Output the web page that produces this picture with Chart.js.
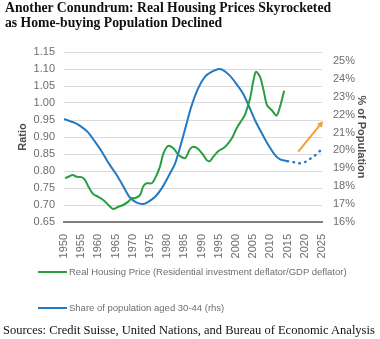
<!DOCTYPE html>
<html lang="en">
<head>
    <meta charset="UTF-8">
    <title>Real Housing Prices vs Home-buying Population</title>
    <script src="https://cdn.jsdelivr.net/npm/chart.js"></script>
    <style>
        body {
            margin: 0;
            padding: 0;
            background-color: #fff;
            width: 380px;
            height: 339px;
            position: relative;
            overflow: hidden;
        }
        #chart {
            position: absolute;
            left: 0;
            top: 0;
        }
        .title {
            position: absolute;
            left: 5px;
            top: 1px;
            font-family: 'Liberation Serif', 'Times New Roman', serif;
            font-weight: bold;
            font-size: 13.7px;
            line-height: 14.6px;
            color: #111;
            white-space: nowrap;
        }
        .legend-row {
            position: absolute;
            left: 38px;
            font-family: 'Liberation Sans', Arial, sans-serif;
            font-size: 9.5px;
            color: #6d6d6d;
            white-space: nowrap;
            display: flex;
            align-items: center;
        }
        .legend-row .swatch {
            width: 29px;
            height: 2px;
            margin-right: 2px;
        }
        .sources {
            position: absolute;
            left: 3px;
            top: 323px;
            font-family: 'Liberation Serif', 'Times New Roman', serif;
            font-size: 12.5px;
            color: #111;
            white-space: nowrap;
        }
    </style>
</head>
<body>
    <canvas id="chart" width="380" height="339"></canvas>
    <div class="title">Another Conundrum: Real Housing Prices Skyrocketed<br>as Home-buying Population Declined</div>
    <div class="legend-row" style="top: 266px;"><span class="swatch" style="background:#2a9d43;"></span>Real Housing Price (Residential investment deflator/GDP deflator)</div>
    <div class="legend-row" style="top: 302px;"><span class="swatch" style="background:#2379c4;"></span>Share of population aged 30-44 (rhs)</div>
    <div class="sources">Sources: Credit Suisse, United Nations, and Bureau of Economic Analysis</div>

    <script>
        // Real housing price ratio (left axis)
        var priceYears = [1950.3, 1951.3, 1952.5, 1953.7, 1955.1, 1956.1, 1957.1, 1958.5, 1960, 1961.4,
            1962.9, 1964.3, 1965.8, 1967.2, 1968.7, 1969.7, 1970.6, 1972.1, 1973, 1974,
            1975.5, 1976.5, 1977.9, 1978.9, 1980.3, 1981.8, 1983.3, 1985.2, 1986.6, 1987.6,
            1989, 1990.5, 1991.5, 1992.4, 1993.4, 1994.9, 1996.3, 1997.3, 1998.8, 2000.2,
            2001.7, 2002.6, 2004.1, 2005, 2005.8, 2007, 2008, 2009, 2010.4, 2011.8, 2012.8, 2014];
        var priceRatio = [0.779, 0.783, 0.788, 0.783, 0.782, 0.774, 0.754, 0.732, 0.724, 0.715,
            0.700, 0.688, 0.695, 0.700, 0.710, 0.720, 0.720, 0.729, 0.754, 0.764,
            0.764, 0.779, 0.813, 0.852, 0.874, 0.867, 0.847, 0.838, 0.864, 0.871,
            0.865, 0.847, 0.832, 0.829, 0.842, 0.859, 0.867, 0.876, 0.896, 0.926,
            0.950, 0.965, 1.014, 1.063, 1.092, 1.077, 1.038, 0.994, 0.979, 0.963, 0.989, 1.036];

        // Share of population aged 30-44, % (right axis)
        var popYears = [1950, 1953, 1955, 1957, 1959, 1961, 1963, 1965, 1967, 1969,
            1971, 1973, 1974.5, 1976.5, 1978.4, 1980.3, 1982.3, 1984.2, 1985.5, 1987,
            1989, 1991, 1993, 1995, 1996, 1998, 2000, 2002, 2003.6, 2005.5,
            2007.5, 2009.4, 2011.3, 2012.8, 2015];
        var popShare = [21.76, 21.55, 21.33, 21.01, 20.49, 19.93, 19.28, 18.72, 18.07, 17.41,
            17.10, 17.01, 17.13, 17.41, 17.88, 18.53, 19.28, 20.49, 21.4, 22.45,
            23.47, 24.12, 24.40, 24.55, 24.51, 24.22, 23.75, 23.19, 22.54, 21.70,
            20.96, 20.30, 19.75, 19.50, 19.40];

        // Projection (dotted)
        var projYears = [2015, 2016.2, 2018, 2019.6, 2021, 2022.5, 2024, 2025];
        var projShare = [19.40, 19.37, 19.28, 19.31, 19.47, 19.65, 19.90, 20.08];

        // Orange arrow annotation (right axis units)
        var arrowYears = [2018.1, 2025.4];
        var arrowShare = [19.93, 21.65];

        function pts(xs, ys) {
            return xs.map(function (x, i) { return { x: x, y: ys[i] }; });
        }

        var arrowPlugin = {
            id: 'arrow',
            afterDatasetsDraw: function (chart) {
                var xs = chart.scales.x, ys = chart.scales.y1, c = chart.ctx;
                var x0 = xs.getPixelForValue(arrowYears[0]), y0 = ys.getPixelForValue(arrowShare[0]);
                var x1 = xs.getPixelForValue(arrowYears[1]), y1 = ys.getPixelForValue(arrowShare[1]);
                var a = Math.atan2(y1 - y0, x1 - x0), h = 7;
                c.save();
                c.strokeStyle = '#f0a03a';
                c.fillStyle = '#f0a03a';
                c.lineWidth = 2;
                c.beginPath();
                c.moveTo(x0, y0);
                c.lineTo(x1 - h * 0.8 * Math.cos(a), y1 - h * 0.8 * Math.sin(a));
                c.stroke();
                c.beginPath();
                c.moveTo(x1, y1);
                c.lineTo(x1 - h * Math.cos(a - 0.45), y1 - h * Math.sin(a - 0.45));
                c.lineTo(x1 - h * Math.cos(a + 0.45), y1 - h * Math.sin(a + 0.45));
                c.closePath();
                c.fill();
                c.restore();
            }
        };

        Chart.defaults.font.family = "'Liberation Sans', Arial, sans-serif";
        Chart.defaults.color = '#6d6d6d';

        var ctx = document.getElementById('chart').getContext('2d');
        var chart = new Chart(ctx, {
            type: 'line',
            data: {
                datasets: [{
                    label: 'Real Housing Price',
                    data: pts(priceYears, priceRatio),
                    yAxisID: 'y',
                    borderColor: '#2a9d43',
                    borderWidth: 2,
                    pointRadius: 0,
                    tension: 0.25
                }, {
                    label: 'Share of population aged 30-44 (rhs)',
                    data: pts(popYears, popShare),
                    yAxisID: 'y1',
                    borderColor: '#2379c4',
                    borderWidth: 2,
                    pointRadius: 0,
                    tension: 0.25
                }, {
                    label: 'Projection',
                    data: pts(projYears, projShare),
                    yAxisID: 'y1',
                    borderColor: '#2379c4',
                    borderWidth: 2.5,
                    borderDash: [0.5, 5.5],
                    borderCapStyle: 'round',
                    pointRadius: 0,
                    tension: 0.3,
                    clip: false
                }]
            },
            options: {
                responsive: false,
                animation: false,
                events: [],
                layout: { padding: { top: 52, left: 0, right: 0, bottom: 0 } },
                plugins: {
                    legend: { display: false },
                    tooltip: { enabled: false }
                },
                scales: {
                    x: {
                        type: 'linear',
                        min: 1950,
                        max: 2025,
                        afterFit: function (s) { s.height = 117; },
                        grid: { display: false },
                        border: { display: true, color: '#7f7f7f', width: 2 },
                        ticks: {
                            stepSize: 5,
                            autoSkip: false,
                            maxRotation: 90,
                            minRotation: 90,
                            padding: 4,
                            font: { size: 11 },
                            callback: function (v) { return String(v); }
                        }
                    },
                    y: {
                        position: 'left',
                        min: 0.65,
                        max: 1.15,
                        afterFit: function (s) { s.width = 64; },
                        border: { display: false },
                        grid: { color: '#dadada', lineWidth: 1, drawTicks: false },
                        ticks: {
                            stepSize: 0.05,
                            padding: 9,
                            font: { size: 11 },
                            callback: function (v) { return v.toFixed(2); }
                        },
                        title: {
                            display: true,
                            text: 'Ratio',
                            color: '#4d4d4d',
                            font: { size: 11, weight: 'bold' },
                            padding: { top: 16, bottom: 0 }
                        }
                    },
                    y1: {
                        position: 'right',
                        min: 16,
                        max: 25.5,
                        afterFit: function (s) { s.width = 58; },
                        border: { display: false },
                        grid: { display: false, drawTicks: false },
                        ticks: {
                            stepSize: 1,
                            includeBounds: false,
                            padding: 11,
                            font: { size: 11 },
                            callback: function (v) { return v + '%'; }
                        },
                        title: {
                            display: true,
                            text: '% of Population',
                            color: '#4d4d4d',
                            font: { size: 11, weight: 'bold' },
                            padding: { top: 12, bottom: 0 }
                        }
                    }
                }
            },
            plugins: [arrowPlugin]
        });
    </script>
</body>
</html>
